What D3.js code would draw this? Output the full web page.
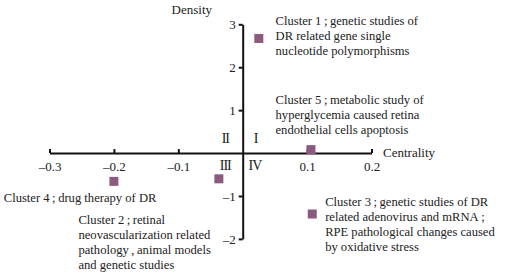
<!DOCTYPE html>
<html>
<head>
<meta charset="utf-8">
<script src="https://cdnjs.cloudflare.com/ajax/libs/d3/7.8.5/d3.min.js"></script>
<style>
    body { margin: 0; background: #fff; }
</style>
</head>
<body>
<div id="chart"></div>
<script>
// cluster data: centrality (x) and density (y)
var clusters = ["Cluster 1", "Cluster 2", "Cluster 3", "Cluster 4", "Cluster 5"];
var centrality = [0.025, -0.037, 0.108, -0.200, 0.106];
var density = [2.67, -0.60, -1.42, -0.66, 0.08];
var labels = [
    ["Cluster 1\u2009;\u2009genetic studies of", "DR related gene single", "nucleotide polymorphisms"],
    ["Cluster 2\u2009;\u2009retinal", "neovascularization related", "pathology\u2009,\u2009animal models", "and genetic studies"],
    ["Cluster 3\u2009;\u2009genetic studies of DR", "related adenovirus and mRNA\u2009;", "RPE pathological changes caused", "by oxidative stress"],
    ["Cluster 4\u2009;\u2009drug therapy of DR"],
    ["Cluster 5\u2009;\u2009metabolic study of", "hyperglycemia caused retina", "endothelial cells apoptosis"]
];
// where each label block sits, in data units
var labelAt = [[0.051, 2.98], [-0.255, -1.65], [0.128, -1.23], [-0.371, -1.13], [0.051, 1.15]];
var xTicks = [-0.3, -0.2, -0.1, 0.1, 0.2];
var yTicks = [-2, -1, 1, 2, 3];
var quadrants = [["I", 0.02, 0.35], ["II", -0.027, 0.35], ["III", -0.027, -0.28], ["IV", 0.019, -0.28]];

var W = 509, H = 280;
var FONT = "'Liberation Serif', serif";
var svg = d3.select("#chart").append("svg").attr("width", W).attr("height", H)
    .style("font-family", FONT);

var x = d3.scaleLinear().domain([-0.3, 0.2]).range([49.5, 371.5]);
var y = d3.scaleLinear().domain([-2, 3]).range([238.9, 24.3]);

var xAxis = d3.axisBottom(x).tickValues(xTicks).tickSizeInner(-4).tickSizeOuter(0)
    .tickPadding(9).tickFormat(function (d) { return d3.format(".1f")(d).replace("−", "–").replace("-", "–"); });
var yAxis = d3.axisLeft(y).tickValues(yTicks).tickSizeInner(4).tickSizeOuter(0)
    .tickPadding(3).tickFormat(function (d) { return String(d).replace("-", "–"); });

var gx = svg.append("g").attr("transform", "translate(0," + y(0) + ")").call(xAxis);
var gy = svg.append("g").attr("transform", "translate(" + x(0) + ",0)").call(yAxis);
[gx, gy].forEach(function (g) {
    g.attr("font-family", null).attr("font-size", 13);
    g.selectAll("path, line").attr("stroke", "#111").attr("stroke-width", 2);
    g.selectAll("text").attr("fill", "#222").style("font-family", FONT);
});

svg.append("text").attr("x", 212).attr("y", 14).attr("text-anchor", "end")
    .style("font-family", FONT).attr("font-size", 13).attr("fill", "#222").text("Density");
svg.append("text").attr("x", 383).attr("y", y(0) + 4)
    .style("font-family", FONT).attr("font-size", 13).attr("fill", "#222").text("Centrality");

svg.selectAll("text.quad").data(quadrants).enter().append("text")
    .attr("class", "quad")
    .attr("x", function (d) { return x(d[1]); })
    .attr("y", function (d) { return y(d[2]) + 5; })
    .attr("text-anchor", "middle")
    .style("font-family", FONT)
    .attr("font-size", 14)
    .attr("letter-spacing", -1)
    .attr("fill", "#222")
    .text(function (d) { return d[0]; });

svg.selectAll("rect.pt").data(clusters).enter().append("rect")
    .attr("class", "pt")
    .attr("x", function (d, i) { return x(centrality[i]) - 4.5; })
    .attr("y", function (d, i) { return y(density[i]) - 4.5; })
    .attr("width", 9).attr("height", 9)
    .attr("fill", "#8b5a7e");

var lab = svg.selectAll("text.lab").data(labels).enter().append("text")
    .attr("class", "lab")
    .attr("x", function (d, i) { return x(labelAt[i][0]); })
    .attr("y", function (d, i) { return y(labelAt[i][1]); })
    .style("font-family", FONT)
    .attr("font-size", 12.6)
    .attr("fill", "#222");
lab.selectAll("tspan").data(function (d, i) { return d.map(function (s) { return [s, i]; }); })
    .enter().append("tspan")
    .attr("x", function (d) { return x(labelAt[d[1]][0]); })
    .attr("dy", function (d, j) { return j === 0 ? 0 : 15; })
    .text(function (d) { return d[0]; });
</script>
</body>
</html>
